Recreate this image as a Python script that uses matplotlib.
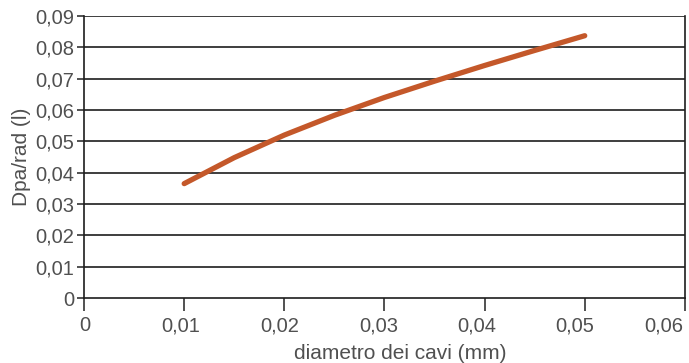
import matplotlib
matplotlib.use("Agg")
import matplotlib.pyplot as plt
import matplotlib.transforms as mtransforms
from matplotlib.ticker import FuncFormatter

# Cable diameter (mm) vs Dpa/rad (l)
diametro = [0.010, 0.015, 0.020, 0.025, 0.030, 0.035, 0.040, 0.045, 0.050]
dpa_rad = [0.0365, 0.0448, 0.0520, 0.0583, 0.0640, 0.0692, 0.0742, 0.0790, 0.0837]

x_ticks = [0, 0.01, 0.02, 0.03, 0.04, 0.05, 0.06]
y_ticks = [0, 0.01, 0.02, 0.03, 0.04, 0.05, 0.06, 0.07, 0.08, 0.09]

plt.rcParams['font.family'] = ['Liberation Sans', 'DejaVu Sans']
text_color = '#505050'

fig = plt.figure(figsize=(6.89, 3.63), dpi=100)
ax = fig.add_axes([0.122, 0.179, 0.872, 0.777])

for y in y_ticks[1:]:
    ax.axhline(y, color='#1e1e1e', lw=1.2, zorder=1)

ax.plot(diametro, dpa_rad, color='#c4582a', lw=3.8, solid_capstyle='round', zorder=3)

ax.set_xlim(0, 0.06)
ax.set_ylim(0, 0.09)
ax.set_xticks(x_ticks)
ax.set_yticks(y_ticks)


def comma(v, pos):
    if abs(v) < 1e-12:
        return '0'
    return f'{v:.2f}'.replace('.', ',')


ax.xaxis.set_major_formatter(FuncFormatter(comma))
ax.yaxis.set_major_formatter(FuncFormatter(comma))

for side in ['left', 'bottom', 'right']:
    ax.spines[side].set_color('#1e1e1e')
    ax.spines[side].set_linewidth(1.2)
ax.spines['top'].set_visible(False)

ax.tick_params(axis='x', direction='out', length=9, width=1.2, color='#333333',
               labelsize=14.5, labelcolor=text_color, pad=4)
ax.tick_params(axis='y', direction='out', length=5, width=1.2, color='#333333',
               labelsize=14.5, labelcolor=text_color, pad=2)

# x labels sit slightly left of their ticks; the last one stays inside the frame
x_label_shift_px = [1, -4, -5, -6, -8, -10, -21]
for lbl, dx in zip(ax.get_xticklabels(), x_label_shift_px):
    lbl.set_transform(lbl.get_transform() +
                      mtransforms.ScaledTranslation(dx / 100, 0, fig.dpi_scale_trans))

ax.set_xlabel('diametro dei cavi (mm)', fontsize=15, color=text_color)
ax.xaxis.set_label_coords(0.526, -0.163)
ax.set_ylabel('Dpa/rad (l)', fontsize=15, color=text_color, labelpad=3)

fig.savefig('out.png', dpi=100)
